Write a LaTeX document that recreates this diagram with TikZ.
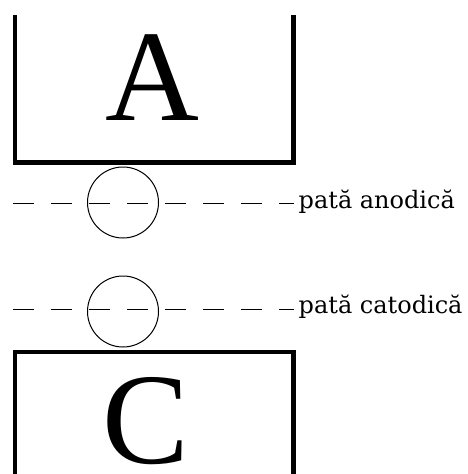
\documentclass[tikz,border=0pt]{standalone}
\usepackage{fontspec}
\setmainfont{Liberation Serif}
\newfontfamily\labelfont{DejaVu Serif}
\begin{document}
\begin{tikzpicture}[x=1pt,y=-1pt,
  electrode/.style={line width=4.5pt},
  spot/.style={line width=1pt},
  dashline/.style={line width=1.1pt,dash pattern=on 21pt off 17pt},
  bigletter/.style={inner sep=0pt,anchor=base,text depth=0pt,font=\fontsize{130}{130}\selectfont},
  spotlabel/.style={inner xsep=5pt,inner ysep=0pt,anchor=base west,font=\labelfont\fontsize{24}{24}\selectfont}]
\useasboundingbox (0,0) rectangle (468,474);
% anode
\draw[electrode] (15,15) -- (15,162.5) -- (293.5,162.5) -- (293.5,15);
\node[bigletter] (A) at (152,120.7) {A};
% cathode
\draw[electrode] (15,480) -- (15,352) -- (293.5,352) -- (293.5,480);
\node[bigletter] (C) at (146,463.5) {C};
% spots
\node[spot,draw,circle,minimum size=71pt,inner sep=0pt] (s1) at (123,202.5) {};
\node[spot,draw,circle,minimum size=71pt,inner sep=0pt] (s2) at (123,311.5) {};
% labels
\node[spotlabel] (la) at (293.5,208.3) {pată anodică};
\node[spotlabel] (lc) at (293.5,313.3) {pată catodică};
\coordinate (da) at (13.3,203.3);
\coordinate (dc) at (13.3,309.3);
\draw[dashline] (da) -- (da -| la.west);
\draw[dashline] (dc) -- (dc -| lc.west);
\end{tikzpicture}
\end{document}
